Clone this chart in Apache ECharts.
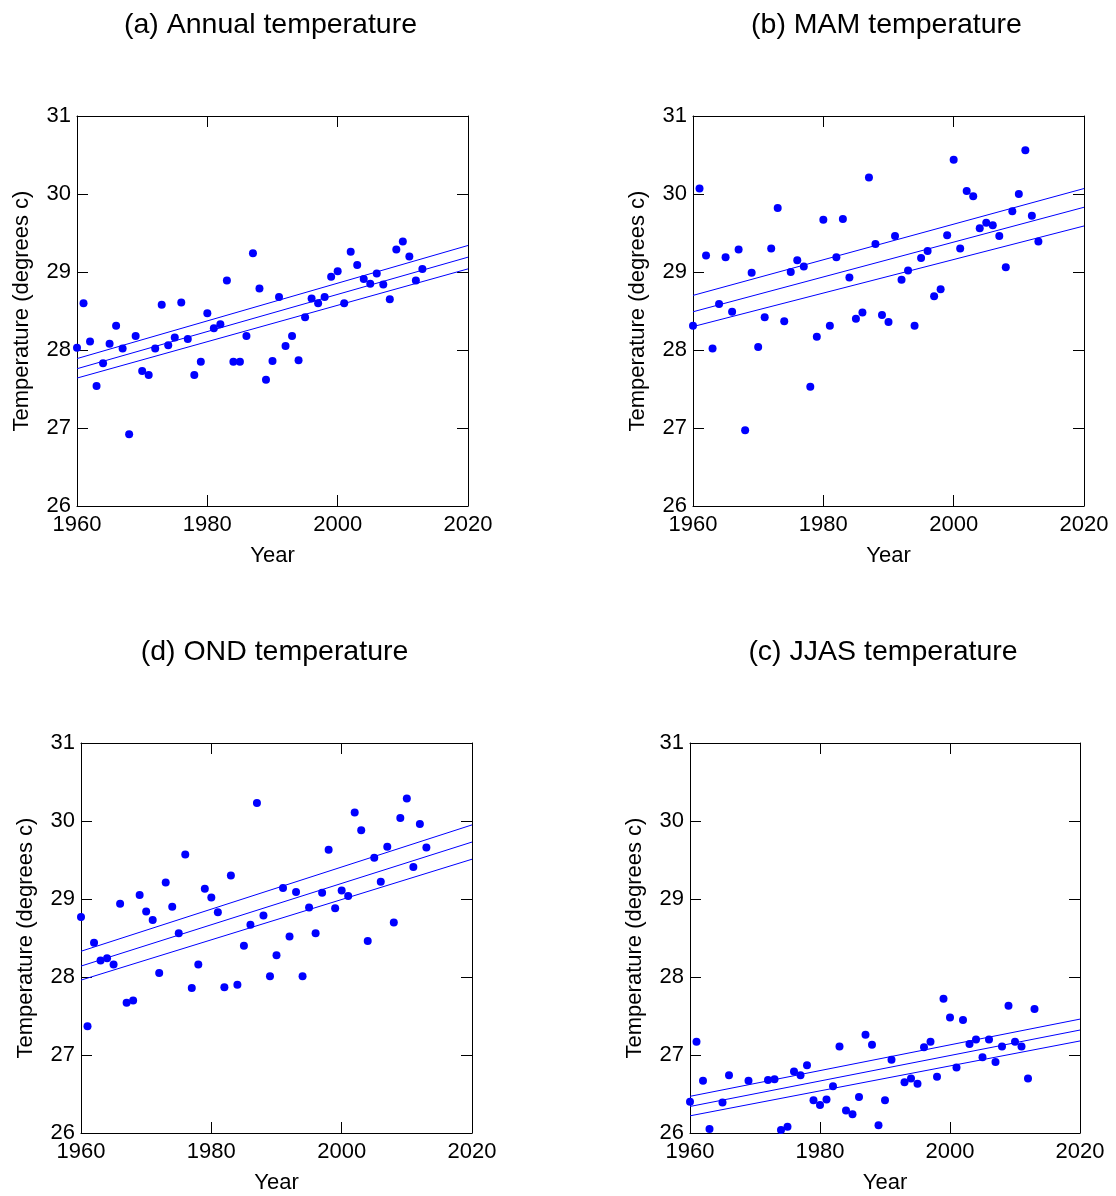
<!DOCTYPE html>
<html><head><meta charset="utf-8">
<script src="https://cdn.jsdelivr.net/npm/echarts@6/dist/echarts.min.js"></script>
<style>html,body{margin:0;padding:0;background:#fff}#c{width:1116px;height:1196px}</style>
</head><body><div id="c"></div>
<script>
// ---- data ----
const years = [1960,1961,1962,1963,1964,1965,1966,1967,1968,1969,
  1970,1971,1972,1973,1974,1975,1976,1977,1978,1979,
  1980,1981,1982,1983,1984,1985,1986,1987,1988,1989,
  1990,1991,1992,1993,1994,1995,1996,1997,1998,1999,
  2000,2001,2002,2003,2004,2005,2006,2007,2008,2009,
  2010,2011,2012,2013];
const annualTemp = [28.03,28.60,28.11,27.54,27.83,28.08,28.31,28.02,26.92,28.18,
  27.73,27.68,28.02,28.58,28.06,28.16,28.61,28.14,27.68,27.85,
  28.47,28.28,28.33,28.89,27.85,27.85,28.18,29.24,28.79,27.62,
  27.86,28.68,28.05,28.18,27.87,28.42,28.66,28.60,28.68,28.94,
  29.01,28.60,29.26,29.09,28.91,28.85,28.98,28.84,28.65,29.29,
  29.39,29.20,28.89,29.04];
const mamTemp = [28.31,30.07,29.21,28.02,28.59,29.19,28.49,29.29,26.97,28.99,
  28.04,28.42,29.30,29.82,28.37,29.00,29.15,29.07,27.53,28.17,
  29.67,28.31,29.19,29.68,28.93,28.40,28.48,30.21,29.36,28.45,
  28.36,29.46,28.90,29.02,28.31,29.18,29.27,28.69,28.78,29.47,
  30.44,29.30,30.04,29.97,29.56,29.63,29.60,29.46,29.06,29.78,
  30.00,30.56,29.72,29.39];
const ondTemp = [28.77,27.37,28.44,28.21,28.24,28.16,28.94,27.67,27.70,29.05,
  28.84,28.73,28.05,29.21,28.90,28.56,29.57,27.86,28.16,29.13,
  29.02,28.83,27.87,29.30,27.90,28.40,28.67,30.23,28.79,28.01,
  28.28,29.14,28.52,29.09,28.01,28.89,28.56,29.08,29.63,28.88,
  29.11,29.04,30.11,29.88,28.46,29.53,29.22,29.67,28.70,30.04,
  30.29,29.41,29.96,29.66];
const jjasYears = [1960,1961,1962,1963,1965,1966,1969,1972,1973,1974,1975,1976,1977,1978,1979,
  1980,1981,1982,1983,1984,1985,1986,1987,1988,1989,1990,1991,1993,1994,1995,1996,1997,1998,1999,
  2000,2001,2002,2003,2004,2005,2006,2007,2008,2009,2010,2011,2012,2013];
const jjasTemp = [26.40,27.17,26.67,26.05,26.39,26.74,26.67,26.68,26.69,26.04,26.08,26.79,26.74,26.87,26.42,
  26.36,26.43,26.60,27.11,26.29,26.24,26.46,27.26,27.13,26.10,26.42,26.94,26.65,26.70,26.63,27.10,27.17,26.72,27.72,
  27.48,26.84,27.45,27.14,27.20,26.97,27.20,26.91,27.11,27.63,27.17,27.11,26.70,27.59];

// trend lines: values at the two end years
const trendYears = [1960, 2020];
const annualTrendUpper = [27.89, 29.34], annualTrend = [27.76, 29.19], annualTrendLower = [27.64, 29.04];
const mamTrendUpper = [28.70, 30.07], mamTrend = [28.49, 29.83], mamTrendLower = [28.30, 29.59];
const ondTrendUpper = [28.33, 29.95], ondTrend = [28.14, 29.73], ondTrendLower = [27.96, 29.51];
const jjasTrendUpper = [26.47, 27.46], jjasTrend = [26.34, 27.32], jjasTrendLower = [26.22, 27.18];

const titles = ['(a) Annual temperature', '(b) MAM temperature', '(d) OND temperature', '(c) JJAS temperature'];
const xTicks = [1960, 1980, 2000, 2020];
const yTicks = [26, 27, 28, 29, 30, 31];

// ---- layout ----
const FONT = '"Liberation Sans", Arial, sans-serif';
const panels = [
  {grid:{left:77, top:116, width:391, height:390}, x:years, y:annualTemp, tu:annualTrendUpper, t:annualTrend, tl:annualTrendLower},
  {grid:{left:693, top:116, width:391, height:390}, x:years, y:mamTemp, tu:mamTrendUpper, t:mamTrend, tl:mamTrendLower},
  {grid:{left:81, top:743, width:391, height:390}, x:years, y:ondTemp, tu:ondTrendUpper, t:ondTrend, tl:ondTrendLower},
  {grid:{left:690, top:743, width:390, height:390}, x:jjasYears, y:jjasTemp, tu:jjasTrendUpper, t:jjasTrend, tl:jjasTrendLower}
];

const BLUE = '#0000ff';
const option = {
  animation: false,
  backgroundColor: '#ffffff',
  title: [], grid: [], xAxis: [], yAxis: [], series: []
};

const lineStyleAxis = {color:'#000', width:1};
const tickStyle = {show:true, inside:true, length:11, lineStyle:{color:'#000', width:1}};

panels.forEach((p, i) => {
  const g = p.grid;
  option.grid.push({left:g.left, top:g.top, width:g.width, height:g.height, show:false, containLabel:false});
  option.title.push({
    text: titles[i], left: g.left + g.width/2 - 7, top: g.top - 110, textAlign:'center',
    textStyle:{fontFamily:FONT, fontSize:28.5, fontWeight:'normal', color:'#000'}
  });
  const xmin = xTicks[0], xmax = xTicks[xTicks.length-1];
  const ymin = yTicks[0], ymax = yTicks[yTicks.length-1];
  option.xAxis.push({
    type:'value', gridIndex:i, min:xmin, max:xmax, interval:20, position:'bottom',
    name:'Year', nameLocation:'middle', nameGap:39,
    nameTextStyle:{fontFamily:FONT, fontSize:22, color:'#000'},
    axisLine:{show:true, onZero:false, lineStyle:lineStyleAxis},
    axisTick:tickStyle, splitLine:{show:false},
    axisLabel:{fontFamily:FONT, fontSize:22, color:'#000', margin:8, formatter:v => String(v)}
  });
  option.xAxis.push({
    type:'value', gridIndex:i, min:xmin, max:xmax, interval:20, position:'top',
    axisLine:{show:true, onZero:false, lineStyle:lineStyleAxis},
    axisTick:tickStyle, splitLine:{show:false}, axisLabel:{show:false}
  });
  option.yAxis.push({
    type:'value', gridIndex:i, min:ymin, max:ymax, interval:1, position:'left',
    name:'Temperature (degrees c)', nameLocation:'middle', nameGap:44,
    nameTextStyle:{fontFamily:FONT, fontSize:22, color:'#000'},
    axisLine:{show:true, onZero:false, lineStyle:lineStyleAxis},
    axisTick:tickStyle, splitLine:{show:false},
    axisLabel:{fontFamily:FONT, fontSize:22, color:'#000', margin:6}
  });
  option.yAxis.push({
    type:'value', gridIndex:i, min:ymin, max:ymax, interval:1, position:'right',
    axisLine:{show:true, onZero:false, lineStyle:lineStyleAxis},
    axisTick:tickStyle, splitLine:{show:false}, axisLabel:{show:false}
  });
  [p.tu, p.t, p.tl].forEach(tv => {
    option.series.push({
      type:'line', xAxisIndex:2*i, yAxisIndex:2*i, symbol:'none', silent:true,
      lineStyle:{color:BLUE, width:1}, data: trendYears.map((yr, k) => [yr, tv[k]]), z:2
    });
  });
  option.series.push({
    type:'scatter', xAxisIndex:2*i, yAxisIndex:2*i, symbol:'circle', symbolSize:8,
    itemStyle:{color:BLUE, opacity:1}, data: p.x.map((yr, k) => [yr, p.y[k]]), z:3
  });
});

const chart = echarts.init(document.getElementById('c'), null, {renderer:'canvas'});
chart.setOption(option);
</script>
</body></html>
